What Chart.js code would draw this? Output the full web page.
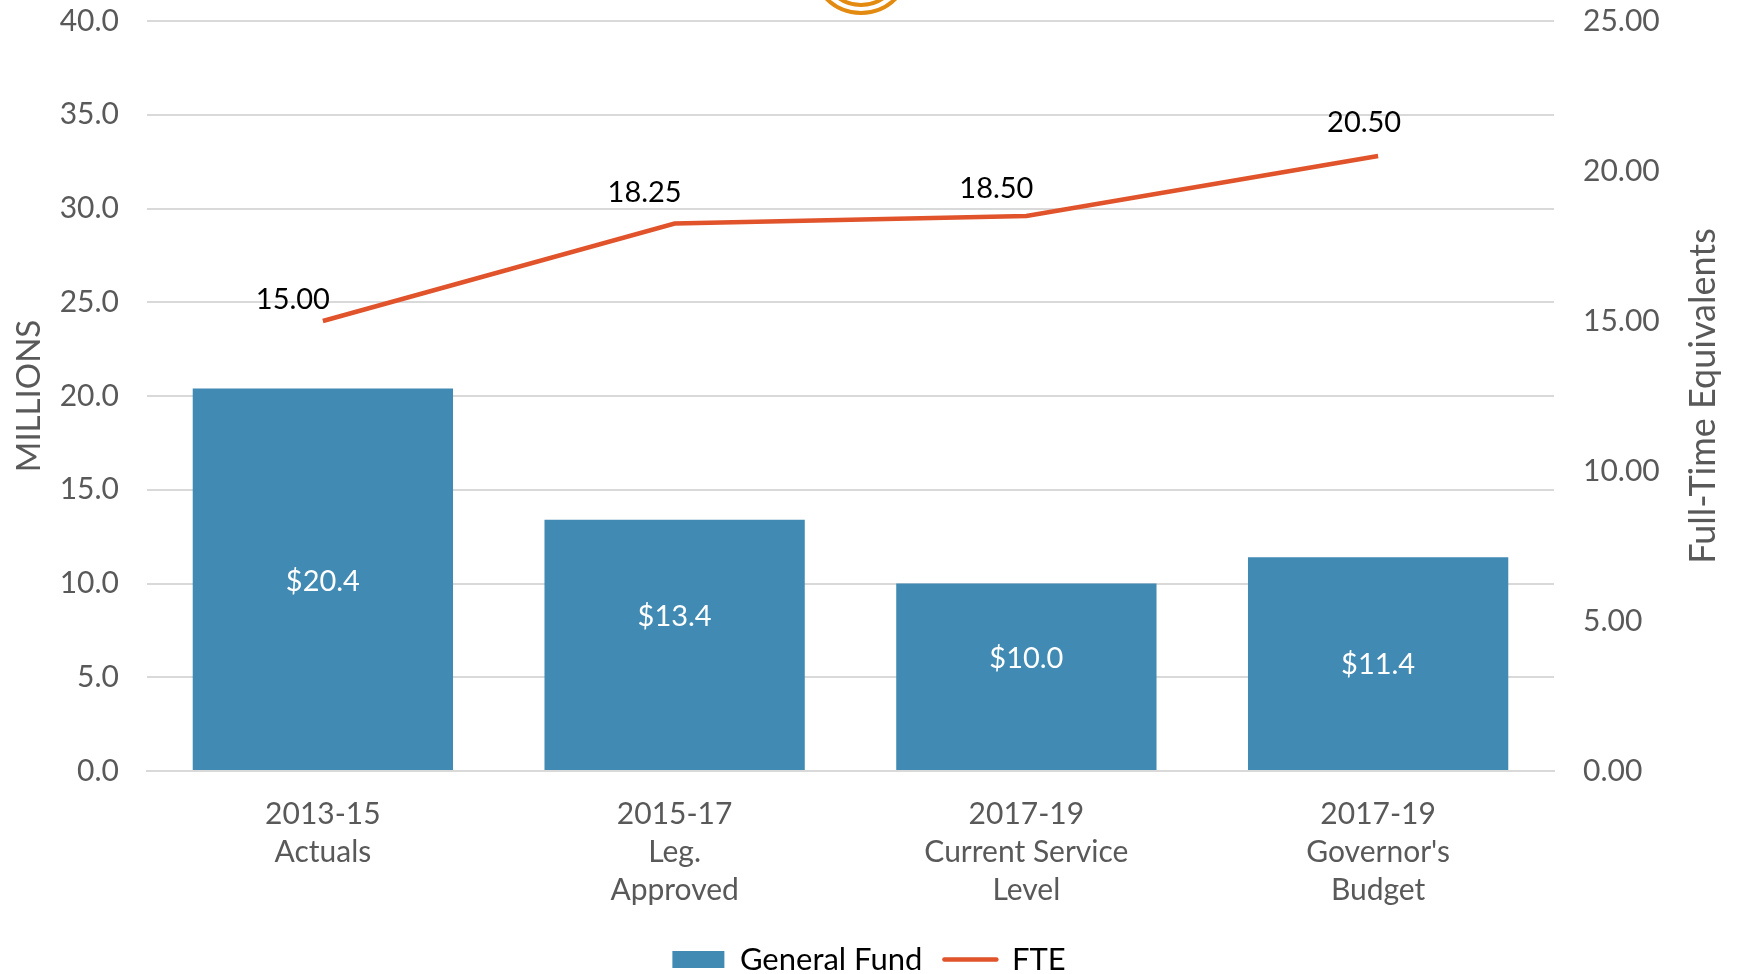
<!DOCTYPE html>
<html>
<head>
<meta charset="utf-8">
<script src="https://cdn.jsdelivr.net/npm/chart.js@4.4.0/dist/chart.umd.min.js"></script>
<style>
  html, body { margin: 0; padding: 0; background: #fff; overflow: hidden; }
  #wrap { position: relative; width: 1738px; height: 974px; }
  #myChart { display: block; }
  .ring { position: absolute; border: 4px solid #e38a10; border-radius: 50%; }
</style>
</head>
<body>
<div id="wrap">
  <canvas id="myChart" width="1738" height="974"></canvas>
  <div class="ring" style="left:810px; top:-87px; width:94px; height:94px;"></div>
  <div class="ring" style="left:820px; top:-75px; width:74px; height:74px;"></div>
</div>
<script>
var categories = [
    ["2013-15", "Actuals"],
    ["2015-17", "Leg.", "Approved"],
    ["2017-19", "Current Service", "Level"],
    ["2017-19", "Governor's", "Budget"]
];
var generalFund = [20.4, 13.4, 10.0, 11.4];
var fte = [15.00, 18.25, 18.50, 20.50];

var colors = {
    "bar": "#418ab3",
    "line": "#e0532b",
    "text": "#595959",
    "grid": "#d9d9d9"
};
var fontFamily = "Lato, 'Noto Sans', sans-serif";

// label nudges (px) - the labels in the original were moved by hand
var barLabelShift = [2, -28, -18, 1];
var lineLabelDx = [-30, -30, -30, -14];
var lineLabelDy = [-21, -31, -27, -33];

// value labels on bars and line, plus the right axis title (reads bottom to top)
var valueLabels = {
    id: 'valueLabels',
    afterDatasetsDraw(chart) {
        var ctx = chart.ctx;
        ctx.save();
        ctx.font = '29px ' + fontFamily;
        ctx.textAlign = 'center';
        ctx.textBaseline = 'middle';

        var barMeta = chart.getDatasetMeta(0);
        barMeta.data.forEach((bar, i) => {
            ctx.fillStyle = '#ffffff';
            var y = (bar.y + bar.base) / 2 + barLabelShift[i];
            ctx.fillText('$' + generalFund[i].toFixed(1), bar.x, y);
        });

        var lineMeta = chart.getDatasetMeta(1);
        lineMeta.data.forEach((pt, i) => {
            ctx.fillStyle = '#000000';
            ctx.fillText(fte[i].toFixed(2), pt.x + lineLabelDx[i], pt.y + lineLabelDy[i]);
        });

        var area = chart.chartArea;
        ctx.translate(chart.width - 35, (area.top + area.bottom) / 2);
        ctx.rotate(-Math.PI / 2);
        ctx.font = '36px ' + fontFamily;
        ctx.fillStyle = colors.text;
        ctx.fillText('Full-Time Equivalents', 0, 0);
        ctx.restore();
    }
};

function setupChart() {
    var ctx = document.getElementById("myChart").getContext('2d');
    var myChart = new Chart(ctx, {
        type: 'bar',
        data: {
            labels: categories,
            datasets: [{
                type: 'bar',
                label: 'General Fund',
                data: generalFund,
                backgroundColor: colors.bar,
                yAxisID: 'y',
                barPercentage: 0.74,
                categoryPercentage: 1.0,
                order: 2
            }, {
                type: 'line',
                label: 'FTE',
                data: fte,
                borderColor: colors.line,
                backgroundColor: colors.line,
                borderWidth: 4.5,
                pointRadius: 0,
                tension: 0,
                yAxisID: 'y1',
                order: 1
            }]
        },
        options: {
            responsive: false,
            animation: false,
            layout: { padding: { top: 21, bottom: -11 } },
            plugins: {
                tooltip: { enabled: false },
                legend: {
                    position: 'bottom',
                    labels: {
                        font: { size: 31, family: fontFamily },
                        color: colors.text,
                        usePointStyle: true,
                        pointStyleWidth: 52,
                        boxHeight: 17,
                        padding: 22,
                        generateLabels: function (chart) {
                            return [{
                                text: 'General Fund',
                                fillStyle: colors.bar,
                                strokeStyle: colors.bar,
                                lineWidth: 0,
                                pointStyle: 'rect',
                                datasetIndex: 0
                            }, {
                                text: 'FTE',
                                fillStyle: colors.line,
                                strokeStyle: colors.line,
                                lineWidth: 4.5,
                                lineCap: 'round',
                                pointStyle: 'line',
                                datasetIndex: 1
                            }];
                        }
                    }
                }
            },
            scales: {
                x: {
                    grid: { display: false },
                    border: { display: true, color: colors.grid, width: 2 },
                    ticks: {
                        font: { size: 30, family: fontFamily, lineHeight: 1.27 },
                        color: colors.text,
                        padding: 16,
                        maxRotation: 0,
                        autoSkip: false
                    },
                    afterFit: function (scale) {
                        scale.height = 151;
                        scale.paddingLeft = 0;
                        scale.paddingRight = 0;
                    }
                },
                y: {
                    position: 'left',
                    min: 0,
                    max: 40,
                    grid: { color: colors.grid, lineWidth: 2, drawTicks: false },
                    border: { display: false },
                    ticks: {
                        stepSize: 5,
                        font: { size: 30, family: fontFamily },
                        color: colors.text,
                        padding: 28,
                        callback: function (v) { return v.toFixed(1); }
                    },
                    title: {
                        display: true,
                        text: 'MILLIONS',
                        font: { size: 33, family: fontFamily },
                        color: colors.text,
                        padding: { top: 10, bottom: 0 }
                    },
                    afterFit: function (scale) {
                        scale.width = 147;
                        scale.paddingTop = 0;
                        scale.paddingBottom = 0;
                    }
                },
                y1: {
                    position: 'right',
                    min: 0,
                    max: 25,
                    grid: { display: false },
                    border: { display: false },
                    ticks: {
                        stepSize: 5,
                        font: { size: 30, family: fontFamily },
                        color: colors.text,
                        padding: 21,
                        callback: function (v) { return v.toFixed(2); }
                    },
                    afterFit: function (scale) {
                        scale.width = 184;
                        scale.paddingTop = 0;
                        scale.paddingBottom = 0;
                    }
                }
            }
        },
        plugins: [valueLabels]
    });
}

setupChart();
</script>
</body>
</html>
